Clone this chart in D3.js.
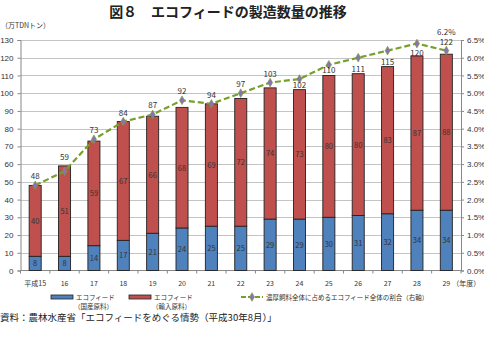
<!DOCTYPE html>
<html>
<head>
<meta charset="utf-8">
<script src="https://cdn.jsdelivr.net/npm/d3@7"></script>
<style>
  body { margin: 0; background: #fff; }
  svg { display: block; font-family: "Noto Sans CJK JP", "Noto Sans", sans-serif; }
</style>
</head>
<body>
<svg id="chart" width="484" height="338"></svg>
<script>
// fiscal years (Heisei)
var years = ['平成15','16','17','18','19','20','21','22','23','24','25','26','27','28','29'];
// 万TDNトン
var domestic = [8, 8, 14, 17, 21, 24, 25, 25, 29, 29, 30, 31, 32, 34, 34];
var imported = [40, 51, 59, 67, 66, 68, 69, 72, 74, 73, 80, 80, 83, 87, 88];
var totals = [48, 59, 73, 84, 87, 92, 94, 97, 103, 102, 110, 111, 115, 120, 122];
// share of eco-feed in concentrated feed (%)
var share = [2.4, 2.8, 3.7, 4.2, 4.4, 4.8, 4.7, 5.0, 5.3, 5.4, 5.8, 6.0, 6.2, 6.4, 6.2];
var leftTicks = d3.range(0, 131, 10);
var rightTicks = d3.range(0, 6.51, 0.5);

var svg = d3.select('#chart');
var plotLeft = 20.5, plotRight = 461, plotTop = 40, plotBottom = 270.5;

var x = d3.scaleBand().domain(years).range([plotLeft, plotRight]).paddingInner(0.59).paddingOuter(0.295);
var y = d3.scaleLinear().domain([0, 130]).range([plotBottom, plotTop]);
var y2 = d3.scaleLinear().domain([0, 6.5]).range([plotBottom, plotTop]);
var green = '#779f2c', purple = '#8a73b4';

// title
svg.append('text').attr('x', 228).attr('y', 17).attr('text-anchor', 'middle')
  .attr('font-size', 14).attr('font-weight', 'bold').attr('fill', '#222')
  .text('図８　エコフィードの製造数量の推移');
svg.append('text').attr('x', 1).attr('y', 28).attr('font-size', 7).attr('fill', '#333')
  .text('（万TDNトン）');

// grid
svg.append('g').selectAll('line').data(leftTicks.slice(1)).join('line')
  .attr('x1', plotLeft).attr('x2', plotRight)
  .attr('y1', function(d){ return Math.round(y(d)) + 0.5; })
  .attr('y2', function(d){ return Math.round(y(d)) + 0.5; })
  .attr('stroke', '#c4c4c4').attr('stroke-width', 1);

// left axis
var gl = svg.append('g').attr('transform', 'translate(' + plotLeft + ',0)')
  .call(d3.axisLeft(y).tickValues(leftTicks).tickSize(3).tickPadding(4));
gl.selectAll('text').attr('font-size', 8).attr('fill', '#333');
gl.selectAll('line, path').attr('stroke', '#888');

// right axis
var gr = svg.append('g').attr('transform', 'translate(' + plotRight + ',0)')
  .call(d3.axisRight(y2).tickValues(rightTicks).tickSize(3).tickPadding(3)
    .tickFormat(function(d){ return d.toFixed(1) + '%'; }));
gr.selectAll('text').attr('font-size', 8).attr('fill', '#333');
gr.selectAll('line, path').attr('stroke', '#888');

// x axis
var gx = svg.append('g').attr('transform', 'translate(0,' + plotBottom + ')');
gx.append('line').attr('x1', plotLeft).attr('x2', plotRight).attr('stroke', '#888');
var step = x.step();
gx.selectAll('line.tk').data(d3.range(years.length + 1)).join('line').attr('class', 'tk')
  .attr('x1', function(i){ return plotLeft + i * step; })
  .attr('x2', function(i){ return plotLeft + i * step; })
  .attr('y1', 0).attr('y2', 3).attr('stroke', '#888');
gx.selectAll('text').data(years).join('text')
  .attr('x', function(d){ return x(d) + x.bandwidth() / 2; })
  .attr('y', 15).attr('text-anchor', 'middle').attr('font-size', 7).attr('fill', '#333')
  .text(function(d){ return d; });
svg.append('text').attr('x', x('29') + x.bandwidth() / 2 + 6).attr('y', plotBottom + 15)
  .attr('font-size', 7).attr('fill', '#333').text('（年度）');

// stacked bars
var stackData = years.map(function(d, i){ return {year: d, domestic: domestic[i], imported: imported[i]}; });
var series = d3.stack().keys(['domestic', 'imported'])(stackData);
var colors = {domestic: '#4f81bd', imported: '#c0504d'};

svg.append('g').selectAll('g').data(series).join('g')
  .attr('fill', function(s){ return colors[s.key]; })
  .selectAll('rect').data(function(s){ return s; }).join('rect')
  .attr('x', function(d){ return x(d.data.year); })
  .attr('y', function(d){ return y(d[1]); })
  .attr('width', x.bandwidth())
  .attr('height', function(d){ return y(d[0]) - y(d[1]); })
  .attr('stroke', '#222').attr('stroke-width', 0.9);

// segment labels
svg.append('g').selectAll('g').data(series).join('g')
  .selectAll('text').data(function(s){ return s; }).join('text')
  .attr('x', function(d){ return x(d.data.year) + x.bandwidth() / 2; })
  .attr('y', function(d){ return y((d[0] + d[1]) / 2) + 3; })
  .attr('text-anchor', 'middle').attr('font-size', 7.5).attr('fill', '#333')
  .text(function(d){ return d[1] - d[0]; });

// share line (right axis)
var line = d3.line()
  .x(function(d, i){ return x(years[i]) + x.bandwidth() / 2; })
  .y(function(d){ return y2(d); });
svg.append('path').datum(share).attr('d', line)
  .attr('fill', 'none').attr('stroke', green).attr('stroke-width', 2.2)
  .attr('stroke-dasharray', '6,3');
var diamond = d3.symbol().type(d3.symbolDiamond).size(22);
svg.append('g').selectAll('path').data(share).join('path')
  .attr('d', diamond)
  .attr('transform', function(d, i){ return 'translate(' + (x(years[i]) + x.bandwidth() / 2) + ',' + y2(d) + ')'; })
  .attr('fill', purple).attr('stroke', green).attr('stroke-width', 0.6);

// total labels: sit on the bar, or lift above the line marker when it is close
svg.append('g').selectAll('text').data(years).join('text')
  .attr('x', function(d){ return x(d) + x.bandwidth() / 2; })
  .attr('y', function(d, i){
    var barTop = y(totals[i]), pt = y2(share[i]);
    if (barTop - pt > 9) return barTop - 2;
    return Math.min(barTop, pt) - 6;
  })
  .attr('text-anchor', 'middle').attr('font-size', 8).attr('fill', '#333')
  .text(function(d, i){ return totals[i]; });

var last = share.length - 1;
svg.append('text').attr('x', x(years[last]) + x.bandwidth() / 2).attr('y', 35)
  .attr('text-anchor', 'middle').attr('font-size', 8).attr('fill', '#333')
  .text(share[last].toFixed(1) + '%');

// legend
var lg = svg.append('g').attr('font-size', 6.5).attr('fill', '#333');
lg.append('rect').attr('x', 51).attr('y', 295).attr('width', 22).attr('height', 4)
  .attr('fill', colors.domestic).attr('stroke', '#222').attr('stroke-width', 0.8);
lg.append('text').attr('x', 76).attr('y', 299.5).text('エコフィード');
lg.append('text').attr('x', 74).attr('y', 309).text('（国産原料）');
lg.append('rect').attr('x', 129).attr('y', 295).attr('width', 22).attr('height', 4)
  .attr('fill', colors.imported).attr('stroke', '#222').attr('stroke-width', 0.8);
lg.append('text').attr('x', 154).attr('y', 299.5).text('エコフィード');
lg.append('text').attr('x', 152).attr('y', 309).text('（輸入原料）');
lg.append('line').attr('x1', 241).attr('x2', 263).attr('y1', 297).attr('y2', 297)
  .attr('stroke', green).attr('stroke-width', 2.2).attr('stroke-dasharray', '5,2');
lg.append('path').attr('d', diamond).attr('transform', 'translate(252,297)')
  .attr('fill', purple).attr('stroke', green).attr('stroke-width', 0.6);
lg.append('text').attr('x', 266).attr('y', 299.5).text('濃厚飼料全体に占めるエコフィード全体の割合（右軸）');

// source
svg.append('text').attr('x', 0).attr('y', 321).attr('font-size', 9.5).attr('fill', '#222')
  .text('資料：農林水産省「エコフィードをめぐる情勢（平成30年8月）」');
</script>
</body>
</html>
